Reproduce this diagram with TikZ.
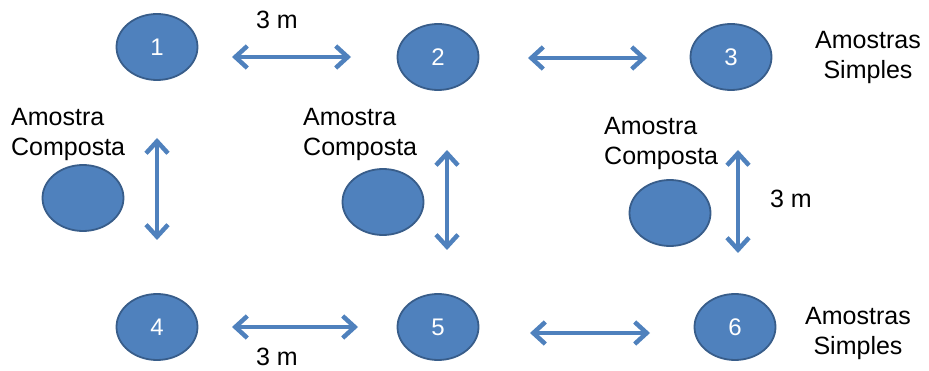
\documentclass[tikz,border=0pt]{standalone}
\usepackage{fontspec}
\setmainfont{Liberation Sans}
\usetikzlibrary{shapes.geometric,arrows.meta}
\definecolor{amostraFill}{RGB}{79,129,189}
\definecolor{amostraLine}{RGB}{56,93,138}
\tikzset{
  amostra/.style={ellipse,draw=amostraLine,fill=amostraFill,line width=1.8pt,minimum width=81pt,minimum height=66pt,inner sep=0pt,text=white,font=\fontsize{24}{28}\selectfont},
  seta/.style={draw=amostraFill,line width=4.5pt,{Straight Barb[length=12pt,width=22pt]}-{Straight Barb[length=12pt,width=22pt]}},
  rotulo/.style={inner sep=0pt,font=\fontsize{25}{30}\selectfont}
}
\begin{document}
\begin{tikzpicture}[x=1pt,y=1pt,yscale=-1,xscale=1]
\useasboundingbox (0,0) rectangle (929,371);

%Shape: Ellipse (simples)
\node [amostra] (s1) at (157,47) {1};
\node [amostra] (s2) at (438,57) {2};
\node [amostra] (s3) at (731,57) {3};
\node [amostra] (s4) at (157,327) {4};
\node [amostra] (s5) at (438,327) {5};
\node [amostra] (s6) at (735,327) {6};
%Shape: Ellipse (composta)
\node [amostra] (c1) at (83,198) {};
\node [amostra] (c2) at (383,202) {};
\node [amostra] (c3) at (670,213) {};

%Straight Lines
\coordinate (h1a) at (232,57); \coordinate (h1b) at (351,57);
\coordinate (h2a) at (528,58); \coordinate (h2b) at (647,58);
\coordinate (h3a) at (232,327); \coordinate (h3b) at (358,327);
\coordinate (h4a) at (530,333); \coordinate (h4b) at (650,333);
\coordinate (v1a) at (157,138); \coordinate (v1b) at (157,240);
\coordinate (v2a) at (447,150); \coordinate (v2b) at (447,250);
\coordinate (v3a) at (738,150); \coordinate (v3b) at (738,253);
\draw [seta] (h1a) -- (h1b);
\draw [seta] (h2a) -- (h2b);
\draw [seta] (h3a) -- (h3b);
\draw [seta] (h4a) -- (h4b);
\draw [seta] (v1a) -- (v1b);
\draw [seta] (v2a) -- (v2b);
\draw [seta] (v3a) -- (v3b);

% Text Node
\node [rotulo] (d1) at (277,20) {3 m};
% Text Node
\node [rotulo] (d2) at (791,199) {3 m};
% Text Node
\node [rotulo] (d3) at (277,357) {3 m};
% Text Node
\node [rotulo,align=center] (t1) at (868,57) {Amostras\\Simples};
% Text Node
\node [rotulo,align=center] (t2) at (858,333) {Amostras\\Simples};
% Text Node
\node [rotulo,align=left,anchor=west] (t3) at (11,134) {Amostra\\Composta};
% Text Node
\node [rotulo,align=left,anchor=west] (t4) at (303,134) {Amostra\\Composta};
% Text Node
\node [rotulo,align=left,anchor=west] (t5) at (604,143) {Amostra\\Composta};
\end{tikzpicture}
\end{document}
